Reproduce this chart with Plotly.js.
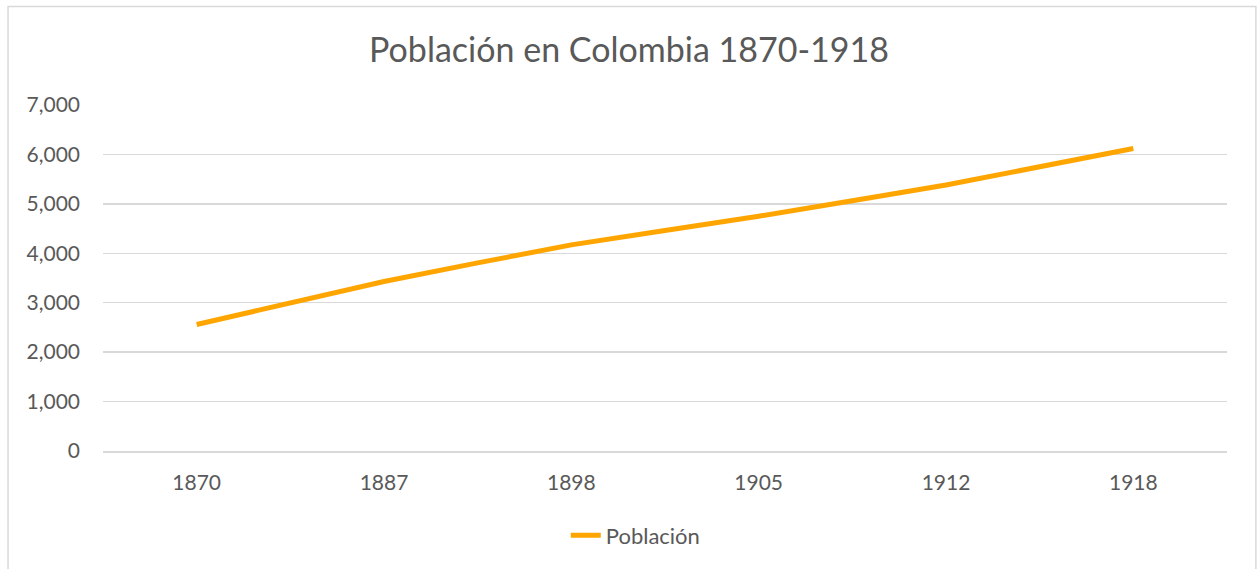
<!DOCTYPE html>
<html>
<head>
<meta charset="utf-8">
<script src="https://cdn.plot.ly/plotly-3.0.1.min.js"></script>
<style>html,body{margin:0;padding:0;background:#fff;}#chart{width:1258px;height:569px;}</style>
</head>
<body>
<div id="chart"></div>
<script>
const years = ["1870", "1887", "1898", "1905", "1912", "1918"];
const poblacion = [2560, 3430, 4170, 4750, 5380, 6120];
const yTicks = [0, 1000, 2000, 3000, 4000, 5000, 6000, 7000];
const seriesName = "Población";
const chartTitle = "Población en Colombia 1870-1918";

const textColor = "#595959";
const fontFam = "Lato, 'Open Sans', sans-serif";

const trace = {
  x: years,
  y: poblacion,
  type: "scatter",
  mode: "lines",
  name: seriesName,
  line: {color: "#FFA500", width: 5, shape: "spline", smoothing: 0.3},
  hoverinfo: "x+y"
};

const layout = {
  width: 1258,
  height: 569,
  margin: {l: 103, r: 31, t: 105, b: 118},
  paper_bgcolor: "#ffffff",
  plot_bgcolor: "#ffffff",
  font: {family: fontFam, color: textColor, size: 21},
  title: {
    text: chartTitle,
    font: {family: fontFam, size: 34, color: textColor},
    x: 0.5, xref: "container", xanchor: "center",
    y: 1 - 50/569, yref: "container", yanchor: "middle"
  },
  xaxis: {
    type: "category",
    range: [-0.5, 5.5],
    showgrid: false,
    zeroline: false,
    showline: true,
    linecolor: "#d9d9d9",
    linewidth: 1.5,
    ticks: "",
    ticklabelstandoff: 12,
    tickfont: {family: fontFam, size: 21, color: textColor},
    fixedrange: true
  },
  yaxis: {
    range: [0, 7000],
    tickvals: yTicks,
    tickformat: ",d",
    showgrid: true,
    gridcolor: "#d9d9d9",
    gridwidth: 1.5,
    zeroline: false,
    showline: false,
    ticks: "",
    ticklabelstandoff: 22,
    tickfont: {family: fontFam, size: 21, color: textColor},
    fixedrange: true
  },
  showlegend: true,
  legend: {
    orientation: "h",
    x: 0.474, xanchor: "center",
    y: -0.244, yanchor: "middle",
    font: {family: fontFam, size: 22, color: textColor},
    bgcolor: "rgba(0,0,0,0)"
  },
  shapes: [{
    type: "rect",
    xref: "paper", yref: "paper",
    x0: -0.0845, x1: 1.0257,
    y0: -0.4, y1: 1.2847,
    line: {color: "#d9d9d9", width: 1.5},
    fillcolor: "rgba(0,0,0,0)",
    layer: "below"
  }]
};

Plotly.newPlot("chart", [trace], layout, {displayModeBar: false, staticPlot: true});
</script>
</body>
</html>
